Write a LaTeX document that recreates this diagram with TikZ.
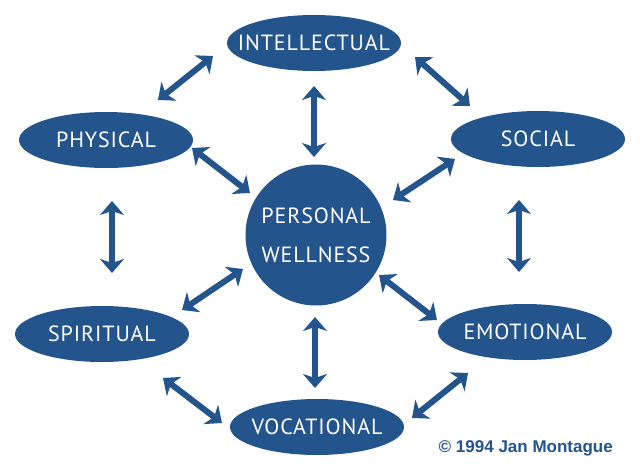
\documentclass[tikz,border=0pt]{standalone}
\usepackage{fontspec}
\setmainfont{PT Sans}
\newfontfamily\areafont{PT Sans}[LetterSpace=4]
\newfontfamily\creditfont{Liberation Sans}
\usetikzlibrary{arrows.meta,shapes.geometric}
\definecolor{wellblue}{RGB}{36,84,140}

\begin{document}
\begin{tikzpicture}[
            x=1pt,y=-1pt,
            >={Stealth[length=14pt,width=24pt,inset=4pt]},
            area/.style={ellipse,fill=wellblue,text=white,inner xsep=-24pt,inner ysep=0pt,
                         minimum width=174pt,minimum height=56pt,font=\areafont\fontsize{22}{26}\selectfont},
            hub/.style={circle,fill=wellblue,text=white,inner sep=0pt,minimum size=141pt,
                        align=center,font=\areafont\fontsize{22}{39}\selectfont},
            link/.style={<->,line width=6pt,draw=wellblue}
        ]
        \useasboundingbox (0,0) rectangle (640,471);
        % dimensions
        \node[hub] (wellness) at (316,235) {PERSONAL\\WELLNESS};
        \node[area] (intellectual) at (314,43) {INTELLECTUAL};
        \node[area] (physical) at (106,140) {PHYSICAL};
        \node[area] (social) at (538,139) {SOCIAL};
        \node[area] (spiritual) at (102,334) {SPIRITUAL};
        \node[area] (emotional) at (525,332) {EMOTIONAL};
        \node[area] (vocational) at (317,427) {VOCATIONAL};
        \node[anchor=base east,text=wellblue,inner sep=0pt,font=\creditfont\bfseries\fontsize{17}{20}\selectfont]
            (credit) at (613,452) {\textcopyright{} 1994 Jan Montague};
        % arrow ends
        \coordinate (pi1) at (158,100);  \coordinate (pi2) at (213,56);
        \coordinate (iw1) at (314,86);   \coordinate (iw2) at (314,157);
        \coordinate (is1) at (415,57);   \coordinate (is2) at (470,106);
        \coordinate (pw1) at (192,148);  \coordinate (pw2) at (250,193);
        \coordinate (sw1) at (455,159);  \coordinate (sw2) at (393,200);
        \coordinate (ps1) at (112,201);  \coordinate (ps2) at (112,273);
        \coordinate (se1) at (519,200);  \coordinate (se2) at (519,272);
        \coordinate (ws1) at (243,269);  \coordinate (ws2) at (182,310);
        \coordinate (we1) at (379,275);  \coordinate (we2) at (437,320);
        \coordinate (wv1) at (315,317);  \coordinate (wv2) at (315,388);
        \coordinate (sv1) at (163,378);  \coordinate (sv2) at (222,423);
        \coordinate (ev1) at (468,373);  \coordinate (ev2) at (412,418);
        % links
        \draw[link] (pi1) -- (pi2);
        \draw[link] (iw1) -- (iw2);
        \draw[link] (is1) -- (is2);
        \draw[link] (pw1) -- (pw2);
        \draw[link] (sw1) -- (sw2);
        \draw[link] (ps1) -- (ps2);
        \draw[link] (se1) -- (se2);
        \draw[link] (ws1) -- (ws2);
        \draw[link] (we1) -- (we2);
        \draw[link] (wv1) -- (wv2);
        \draw[link] (sv1) -- (sv2);
        \draw[link] (ev1) -- (ev2);
\end{tikzpicture}
\end{document}
